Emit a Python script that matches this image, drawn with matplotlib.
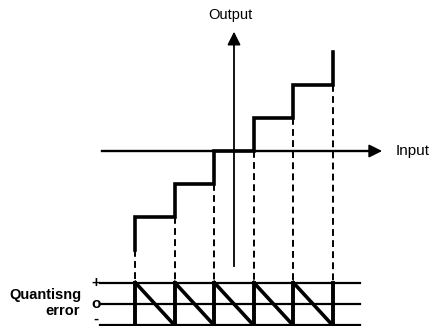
import numpy as np
import matplotlib.pyplot as plt

# quantiser transfer: decision thresholds and output levels (in quantum steps)
thresholds = [-2.5, -1.5, -0.5, 0.5, 1.5, 2.5]
levels = [-3, -2, -1, 0, 1, 2, 3]
err_labels = ['+', 'o', '-']

# where the error strip sits below the transfer plot
err_zero = -4.636
err_scale = 1.3

plt.rcParams['font.family'] = ['Liberation Sans', 'DejaVu Sans']
fig = plt.figure(figsize=(4.3, 3.26), dpi=100)
ax = fig.add_axes([0, 0, 1, 1])
ax.set_xlim(-5.924, 4.962)
ax.set_ylim(-5.303, 4.576)
ax.axis('off')

# axes with arrows
ax.plot([-3.34, 3.5], [0, 0], color='k', lw=1.7)
ax.plot([0, 0], [-3.485, 3.3], color='k', lw=1.3)
ax.annotate('', xy=(3.82, 0), xytext=(3.2, 0),
            arrowprops=dict(arrowstyle='-|>', color='k', lw=1.2, mutation_scale=20))
ax.annotate('', xy=(0, 3.70), xytext=(0, 3.1),
            arrowprops=dict(arrowstyle='-|>', color='k', lw=1.2, mutation_scale=20))
ax.text(-0.1, 4.12, 'Output', ha='center', va='center', fontsize=10.5)
ax.text(4.08, 0, 'Input', ha='left', va='center', fontsize=11)

# staircase
sx = [thresholds[0]]
sy = [levels[0]]
for i, t in enumerate(thresholds):
    sx += [t, t]
    sy += [levels[i], levels[i + 1]]
    if i + 1 < len(thresholds):
        sx.append(thresholds[i + 1])
        sy.append(levels[i + 1])
ax.plot(sx, sy, color='k', lw=2.6, solid_joinstyle='miter')

# dashed drop lines from each step down to the error strip
err_top = err_zero + 0.5 * err_scale
err_bot = err_zero - 0.5 * err_scale
for i, t in enumerate(thresholds):
    low = min(levels[i], levels[i + 1])
    ax.plot([t, t], [low, err_top], color='k', lw=1.4, ls=(0, (3.5, 2.2)))

# error strip grid
for k, lab in enumerate(err_labels):
    yy = err_zero + (0.5 - 0.5 * k) * err_scale
    ax.plot([-3.39, 3.19], [yy, yy], color='k', lw=1.6)
    ly = yy if k < 2 else yy + 0.2
    ax.text(-3.5, ly, lab, ha='center', va='center', fontsize=11, fontweight='bold')

# sawtooth error: output minus input across each step
for i in range(len(thresholds) - 1):
    a, b = thresholds[i], thresholds[i + 1]
    q = (a + b) / 2
    e = np.array([q - a, q - b])
    ax.plot([a, b], err_zero + e * err_scale, color='k', lw=2.6)
for t in thresholds:
    ax.plot([t, t], [err_bot, err_top], color='k', lw=2.8)

ax.text(-3.85, -4.364, 'Quantisng', ha='right', va='center', fontsize=10.5, fontweight='bold')
ax.text(-3.9, -4.848, 'error', ha='right', va='center', fontsize=10.5, fontweight='bold')

fig.savefig('out.png', dpi=100)
